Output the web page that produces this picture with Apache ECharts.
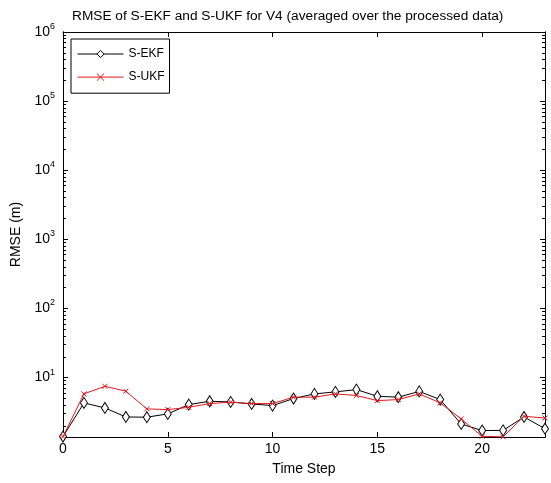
<!DOCTYPE html>
<html><head><meta charset="utf-8">
<script src="https://cdn.jsdelivr.net/npm/echarts@6/dist/echarts.min.js"></script>
<style>html,body{margin:0;padding:0;background:#fff}#c{width:551px;height:483px}</style>
</head><body><div id="c"></div>
<script>
const timeSteps = [0,1,2,3,4,5,6,7,8,9,10,11,12,13,14,15,16,17,18,19,20,21,22,23];
const ekf = [1.4,4.3,3.63,2.69,2.67,2.98,4.06,4.54,4.44,4.15,3.93,4.97,5.8,6.2,6.7,5.36,5.2,6.3,4.8,2.13,1.71,1.72,2.69,1.82];
const ukf = [1.4,5.8,7.48,6.34,3.52,3.44,3.71,4.2,4.4,4.2,4.2,5.2,5.2,5.8,5.5,4.64,4.8,5.8,4.3,2.52,1.41,1.39,2.75,2.6];
const xTicks = [0,5,10,15,20];
const yMajor = [10,100,1000,10000,100000,1000000];
const yMin = 1.38, yMax = 1000000;
const yMinor = [];
for (let d = 1; d <= 100000; d *= 10) for (let k = 2; k <= 9; k++) if (k*d >= yMin) yMinor.push(k*d);

const FONT = 'Liberation Sans';
const RED = '#e0181e';
const pts = a => a.map((v,i)=>[timeSteps[i], v]);
const xBase = {type:'value', min:0, max:23, gridIndex:0,
  axisLine:{lineStyle:{color:'#000',width:1}}, splitLine:{show:false}};
const yBase = {type:'log', min:yMin, max:yMax, splitLine:{show:false},
  axisLine:{lineStyle:{color:'#000',width:1}}};
const chart = echarts.init(document.getElementById('c'), null, {renderer:'canvas'});
chart.setOption({
  animation:false,
  backgroundColor:'#fff',
  title:{text:'RMSE of S-EKF and S-UKF for V4 (averaged over the processed data)', left:67, top:4,
    textStyle:{fontFamily:FONT, fontSize:13.7, fontWeight:'normal', color:'#000'}},
  grid:{left:63, right:6, top:32, bottom:46},
  legend:{orient:'vertical', left:71, top:39, padding:[9,5,10,6], itemGap:11, itemWidth:46, itemHeight:9,
    borderColor:'#000', borderWidth:1, backgroundColor:'#fff',
    lineStyle:{width:1}, itemStyle:{borderWidth:1},
    textStyle:{fontFamily:FONT, fontSize:12, color:'#000'}, data:['S-EKF','S-UKF']},
  xAxis:[
    Object.assign({}, xBase, {position:'bottom', name:'Time Step', nameLocation:'middle', nameGap:25,
      nameTextStyle:{fontFamily:FONT, fontSize:14, color:'#000'},
      axisTick:{inside:true, length:5, customValues:xTicks, lineStyle:{color:'#000'}},
      axisLabel:{customValues:xTicks, margin:5, fontFamily:FONT, fontSize:14, color:'#000'}}),
    Object.assign({}, xBase, {position:'top',
      axisTick:{inside:true, length:5, customValues:xTicks, lineStyle:{color:'#000'}},
      axisLabel:{show:false}})
  ],
  yAxis:[
    Object.assign({}, yBase, {position:'left', name:'RMSE (m)', nameLocation:'middle', nameGap:36,
      nameTextStyle:{fontFamily:FONT, fontSize:14, color:'#000'},
      axisTick:{inside:true, length:5, customValues:yMajor, lineStyle:{color:'#000'}},
      axisLabel:{customValues:yMajor, margin:8,
        formatter: v => '{b|10}{e|' + Math.round(Math.log10(v)) + '}',
        rich:{b:{fontFamily:FONT, fontSize:14, color:'#000', lineHeight:16},
              e:{fontFamily:FONT, fontSize:9, color:'#000', verticalAlign:'bottom', padding:[0,0,11,0]}}}}),
    Object.assign({}, yBase, {position:'left',
      axisTick:{inside:true, length:3, customValues:yMinor, lineStyle:{color:'#000'}},
      axisLabel:{show:false}}),
    Object.assign({}, yBase, {position:'right',
      axisTick:{inside:true, length:5, customValues:yMajor, lineStyle:{color:'#000'}},
      axisLabel:{show:false}}),
    Object.assign({}, yBase, {position:'right',
      axisTick:{inside:true, length:3, customValues:yMinor, lineStyle:{color:'#000'}},
      axisLabel:{show:false}})
  ],
  series:[
    {name:'S-EKF', type:'line', xAxisIndex:0, yAxisIndex:0, data:pts(ekf),
      symbol:'diamond', symbolSize:[7,11], showAllSymbol:true,
      lineStyle:{color:'#000', width:1},
      itemStyle:{color:'#fff', borderColor:'#000', borderWidth:1}, z:2},
    {name:'S-UKF', type:'line', xAxisIndex:0, yAxisIndex:0, data:pts(ukf),
      symbol:'path://M0,0L10,10M10,0L0,10', symbolSize:5, showAllSymbol:true,
      lineStyle:{color:RED, width:1},
      itemStyle:{color:'none', borderColor:RED, borderWidth:1}, z:3}
  ]
});
</script></body></html>
